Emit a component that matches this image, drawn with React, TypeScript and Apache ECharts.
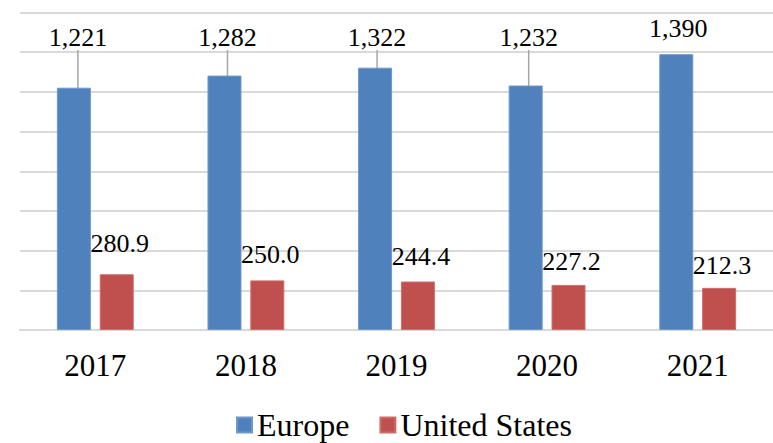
import React, { useEffect, useRef } from "react";
import * as echarts from "echarts";

const years = ["2017", "2018", "2019", "2020", "2021"];
const europe = [1221, 1282, 1322, 1232, 1390];
const unitedStates = [280.9, 250.0, 244.4, 227.2, 212.3];
const yMax = 1600;
const yInterval = 200;

// label placement (styling only)
const europeLabelY = [37, 37, 37, 37, 28];
const europeLabelDx = [4, 3, 2, 3, 2];
const usLabelLift = [-13, -8, -7, -5, -4];

const FONT = "Liberation Serif";

export default function App() {
  const ref = useRef<HTMLDivElement>(null);
  useEffect(() => {
    if (!ref.current) return;
    const chart = echarts.init(ref.current, undefined, { renderer: "svg" });
    chart.setOption({
      animation: false,
      textStyle: { fontFamily: FONT, color: "#000" },
      grid: { left: 20, top: 12.5, width: 755, height: 317.5, containLabel: false },
      legend: {
        bottom: -3,
        left: 231,
        itemWidth: 15,
        itemHeight: 15,
        itemGap: 30,
        icon: "rect",
        textStyle: { fontFamily: FONT, fontSize: 32, color: "#000" },
        data: ["Europe", "United States"],
      },
      xAxis: {
        type: "category",
        data: years,
        axisLine: { show: true, lineStyle: { color: "#d9d9d9", width: 2 } },
        axisTick: { show: false },
        axisLabel: { fontFamily: FONT, fontSize: 31, color: "#000", margin: 20 },
      },
      yAxis: {
        type: "value",
        min: 0,
        max: yMax,
        interval: yInterval,
        axisLabel: { show: false },
        axisLine: { show: false },
        axisTick: { show: false },
        splitLine: { lineStyle: { color: "#d9d9d9", width: 2 } },
      },
      series: [
        {
          name: "Europe",
          type: "bar",
          barWidth: 34,
          barGap: "26%",
          itemStyle: { color: "#4F81BD", borderColor: "#6f97cb", borderWidth: 1 },
          data: europe.map((v, i) => ({
            value: v,
            labelLine: { show: i !== 4 },
          })),
          label: {
            show: true,
            position: "top",
            fontFamily: FONT,
            fontSize: 26,
            color: "#000",
            formatter: (p: any) => Number(p.value).toLocaleString("en-US"),
          },
          labelLine: { show: true, lineStyle: { color: "#a6a6a6", width: 1.5 } },
          labelLayout: (p: any) => ({
            y: europeLabelY[p.dataIndex],
            verticalAlign: "middle",
            align: "center",
            dx: europeLabelDx[p.dataIndex],
          }),
        },
        {
          name: "United States",
          type: "bar",
          barWidth: 34,
          itemStyle: { color: "#C0504D", borderColor: "#cc6e6b", borderWidth: 1 },
          data: unitedStates,
          label: {
            show: true,
            position: "top",
            fontFamily: FONT,
            fontSize: 26,
            color: "#000",
            formatter: (p: any) => Number(p.value).toFixed(1),
          },
          labelLayout: (p: any) => ({
            dy: usLabelLift[p.dataIndex],
            dx: 3,
          }),
        },
      ],
    });
    return () => chart.dispose();
  }, []);
  return (
    <div
      ref={ref}
      style={{ position: "fixed", left: 0, top: 0, width: 773, height: 443, background: "#fff" }}
    />
  );
}
